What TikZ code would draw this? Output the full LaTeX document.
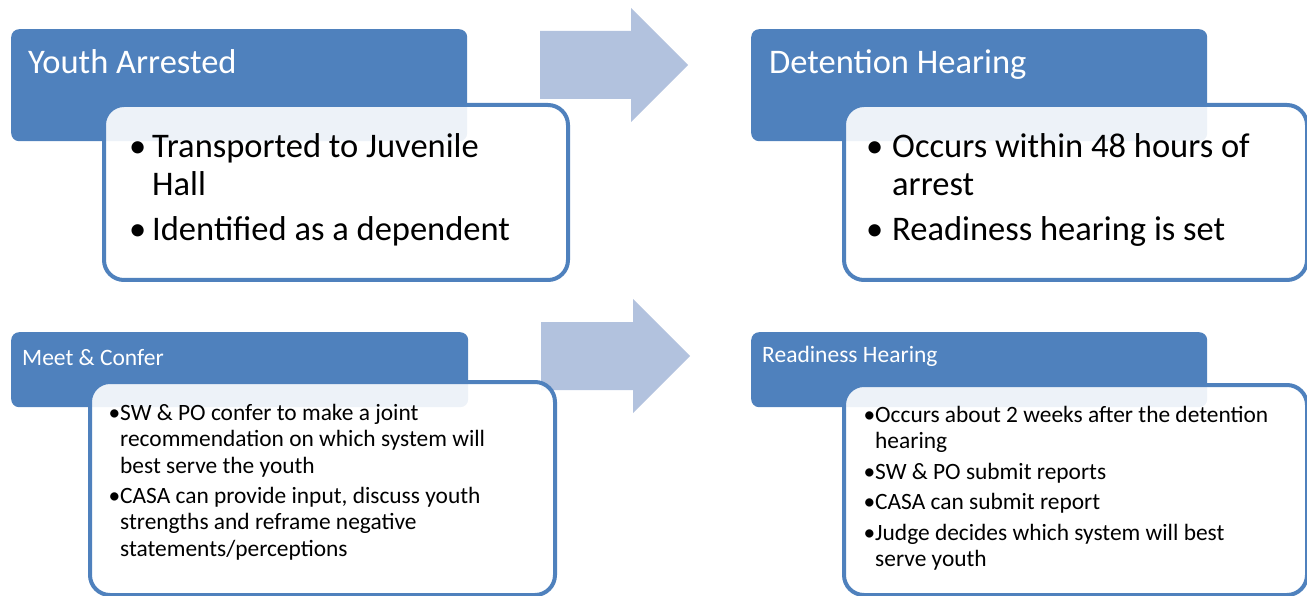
\documentclass[tikz,border=0pt]{standalone}
\usepackage{fontspec}
\setmainfont{Carlito}
\usetikzlibrary{positioning}
\definecolor{headblue}{HTML}{4F81BD}
\definecolor{arrowblue}{HTML}{B2C2DE}
\newcommand{\bigdot}[1]{\makebox[#1][l]{\kern-5pt\textbullet}}
\newcommand{\smalldot}{\makebox[10pt][l]{\kern-1.5pt\textbullet}}
\tikzset{
  headbox/.style={fill=headblue, rounded corners=8pt, inner sep=0pt, anchor=north west},
  bodybox/.style={draw=headblue, line width=4pt, fill=white, fill opacity=0.9, rounded corners=20pt, inner sep=0pt, anchor=north west},
  bigtitle/.style={text=white, font=\fontsize{34.5}{40}\selectfont, inner sep=0pt, anchor=base west},
  smalltitle/.style={text=white, font=\fontsize{23.5}{28}\selectfont, inner sep=0pt, anchor=base west},
  bigitems/.style={font=\fontsize{34.5}{38}\selectfont, inner sep=0pt, anchor=base west},
  smallitems/.style={font=\fontsize{23.4}{26.5}\selectfont, inner sep=0pt, anchor=base west},
  flowarrow/.style={fill=arrowblue}
}
\begin{document}
\begin{tikzpicture}[x=1pt, y=-1pt]
		\useasboundingbox (0,0) rectangle (1307,596);

		\fill[flowarrow] (540,31) -- (631,31) -- (631,8) -- (688,65) -- (631,122) -- (631,99) -- (540,99) -- cycle;
		\fill[flowarrow] (541,322) -- (633,322) -- (633,299) -- (690,356) -- (633,413) -- (633,390) -- (541,390) -- cycle;

		\node[headbox, minimum width=456pt, minimum height=112pt] (arrested) at (11,29) {};
		\node[bodybox, minimum width=464pt, minimum height=175pt] (arrestedbody) at (102,103) {};
		\node[bigtitle] (arrestedtitle) at (28,74) {Youth Arrested};
		\node[bigitems] (arresteditems) at (134,158) {\begin{tabular}[t]{@{}l@{}l@{}}
			\bigdot{18pt} & Transported to Juvenile\\
			& Hall\\[7pt]
			\bigdot{18pt} & Identified as a dependent
		\end{tabular}};

		\node[headbox, minimum width=456pt, minimum height=112pt] (detention) at (751,29) {};
		\node[bodybox, minimum width=463pt, minimum height=175pt] (detentionbody) at (842,103) {};
		\node[bigtitle] (detentiontitle) at (769,74) {Detention Hearing};
		\node[bigitems] (detentionitems) at (871,158) {\begin{tabular}[t]{@{}l@{}l@{}}
			\bigdot{21pt} & Occurs within 48 hours of\\
			& arrest\\[7pt]
			\bigdot{21pt} & Readiness hearing is set
		\end{tabular}};

		\node[headbox, minimum width=457pt, minimum height=75pt] (confer) at (11,332) {};
		\node[bodybox, minimum width=465pt, minimum height=213pt] (conferbody) at (88,380) {};
		\node[smalltitle] (confertitle) at (22,365) {Meet \& Confer};
		\node[smallitems] (conferitems) at (110,420) {\begin{tabular}[t]{@{}l@{}l@{}}
			\smalldot & SW \& PO confer to make a joint\\
			& recommendation on which system will\\
			& best serve the youth\\[3.5pt]
			\smalldot & CASA can provide input, discuss youth\\
			& strengths and reframe negative\\
			& statements/perceptions
		\end{tabular}};

		\node[headbox, minimum width=456pt, minimum height=75pt] (readiness) at (751,332) {};
		\node[bodybox, minimum width=463pt, minimum height=210pt] (readinessbody) at (842,383) {};
		\node[smalltitle] (readinesstitle) at (762,362) {Readiness Hearing};
		\node[smallitems] (readinessitems) at (865,422) {\begin{tabular}[t]{@{}l@{}l@{}}
			\smalldot & Occurs about 2 weeks after the detention\\
			& hearing\\[4pt]
			\smalldot & SW \& PO submit reports\\[4pt]
			\smalldot & CASA can submit report\\[4pt]
			\smalldot & Judge decides which system will best\\
			& serve youth
		\end{tabular}};

	\end{tikzpicture}
\end{document}
